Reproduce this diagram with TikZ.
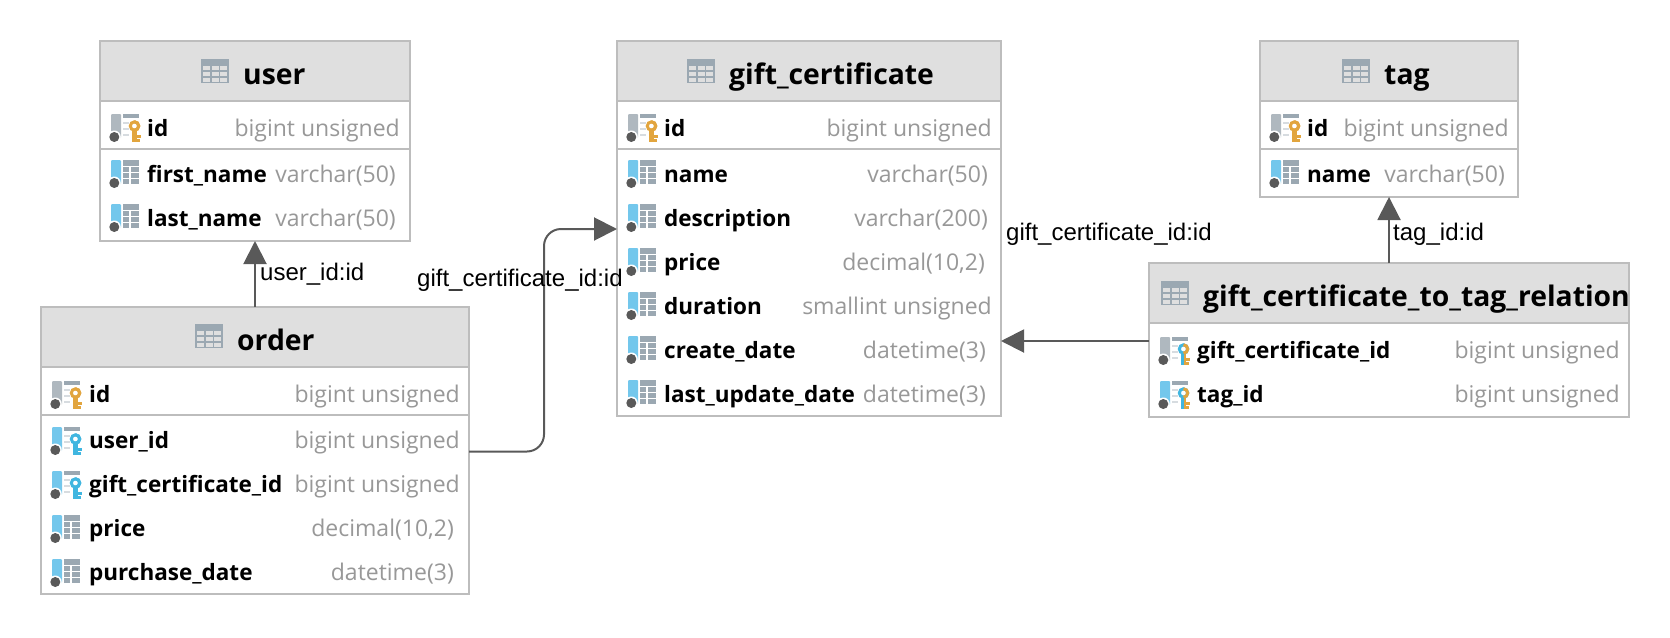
\documentclass[tikz,border=0pt]{standalone}
\usepackage{fontspec}
\setmainfont{Open Sans}
\newfontfamily\labelfont{Liberation Sans}
\definecolor{RuleGrey}{RGB}{189,189,189}
\definecolor{HeadGrey}{RGB}{223,223,223}
\definecolor{TypeGrey}{RGB}{152,152,152}
\definecolor{LineGrey}{RGB}{89,89,89}
\definecolor{IconGrey}{RGB}{155,168,178}
\definecolor{BarGrey}{RGB}{175,184,191}
\definecolor{BarBlue}{RGB}{115,199,236}
\definecolor{KeyGold}{RGB}{226,165,62}
\definecolor{KeyBlue}{RGB}{64,182,224}
\usetikzlibrary{arrows.meta,positioning}

\begin{document}
\begin{tikzpicture}[
        x=1pt, y=-1pt,
        tablehead/.style={draw=RuleGrey, line width=2pt, fill=HeadGrey, inner sep=0pt,
                          outer sep=0pt, minimum height=60pt},
        tablebody/.style={draw=RuleGrey, line width=2pt, fill=white, inner sep=0pt,
                          outer sep=0pt},
        title/.style={anchor=base west, inner sep=0pt, font=\fontsize{28.3}{32}\selectfont\bfseries},
        colname/.style={anchor=base west, inner sep=0pt, font=\fontsize{22.5}{26}\selectfont\bfseries},
        coltype/.style={anchor=base east, inner sep=0pt, text=TypeGrey, font=\fontsize{23}{26}\selectfont},
        conn/.style={anchor=west, inner sep=0pt, font=\fontsize{24}{26}\selectfont\labelfont},
        rowrule/.style={draw=RuleGrey, line width=2pt},
        arr/.style={draw=LineGrey, line width=2pt, -{Triangle[length=23pt, width=23pt]}},
        pics/tableicon/.style={code={
          \fill[IconGrey] (0,0) rectangle (28,24);
          \foreach \cx in {2,10.5,19}
            \foreach \cy in {7,13,19}
              \fill[HeadGrey] (\cx,\cy) rectangle +(7,4);
        }},
        pics/stub/.style={code={
          \fill[#1, rounded corners=1pt] (2,0) rectangle (12,24);
          \fill[white] (5.3,23) circle (6.5);
          \fill[LineGrey] (5.3,23) circle (5);
        }},
        pics/gridicon/.style={code={
          \pic {stub=BarBlue};
          \fill[IconGrey] (14,0) rectangle (30,24);
          \foreach \cy in {6.5,12.5,18.5}
            \draw[white, line width=1.7pt] (14,\cy) -- (30,\cy);
          \draw[white, line width=1.7pt] (21,6) -- (21,24);
        }},
        pics/keyicon/.style n args={3}{code={
          \pic {stub=#1};
          \fill[IconGrey] (14,0) rectangle (30,4);
          \foreach \cy in {8,14,20}
            \fill[white!60!IconGrey] (14,\cy) rectangle +(6,2);
          \fill[#2] (23.3,15) rectangle (25.5,28);
          \fill[#3] (25.5,15) rectangle (27.7,28);
          \fill[#3] (27.7,20.5) rectangle (31.7,23.5);
          \fill[#3] (27.7,25) rectangle (30.5,28);
          \draw[#2, line width=3pt, fill=white] (25.5,12) circle (4.2);
          \draw[#3, line width=3pt] (25.5,16.2) arc (90:-90:4.2);
        }},
        pics/plainrow/.style={code={\pic {gridicon};}},
        pics/pkrow/.style={code={\pic {keyicon={BarGrey}{KeyGold}{KeyGold}};}},
        pics/fkrow/.style={code={\pic {keyicon={BarBlue}{KeyBlue}{KeyBlue}};}},
        pics/pkfkrow/.style={code={\pic {keyicon={BarGrey}{KeyBlue}{KeyGold}};}},
        pics/pkfkbluerow/.style={code={\pic {keyicon={BarBlue}{KeyBlue}{KeyGold}};}}
      ]
        \useasboundingbox (0,0) rectangle (1670,637);
        % table frames
        \node[tablehead, anchor=north west, minimum width=310pt] (userhead) at (100,41) {};
        \node[tablebody, below=0pt of userhead, minimum width=310pt, minimum height=140pt] (userbody) {};
        \node[tablehead, anchor=north west, minimum width=428pt] (orderhead) at (41,307) {};
        \node[tablebody, below=0pt of orderhead, minimum width=428pt, minimum height=227pt] (orderbody) {};
        \node[tablehead, anchor=north west, minimum width=384pt] (gifthead) at (617,41) {};
        \node[tablebody, below=0pt of gifthead, minimum width=384pt, minimum height=315pt] (giftbody) {};
        \node[tablehead, anchor=north west, minimum width=258pt] (taghead) at (1260,41) {};
        \node[tablebody, below=0pt of taghead, minimum width=258pt, minimum height=96pt] (tagbody) {};
        \node[tablehead, anchor=north west, minimum width=480pt] (relhead) at (1149,263) {};
        \node[tablebody, below=0pt of relhead, minimum width=480pt, minimum height=94pt] (relbody) {};
        % key rows are split off by a rule
        \foreach \t in {user,order,gift,tag}
          \draw[rowrule] ([yshift=-48pt]\t body.north west) -- ([yshift=-48pt]\t body.north east);
        % titles
        \node[title] (usertitle) at (243,84.5) {user};
        \node[title] (ordertitle) at (237,350) {order};
        \node[title] (gifttitle) at (729,84.5) {gift\_certificate};
        \node[title] (tagtitle) at (1384,84.5) {tag};
        \node[title] (reltitle) at (1203,306.5) {gift\_certificate\_to\_tag\_relation};
        \foreach \t in {user,order,gift,tag,rel}
          \pic at ([xshift=-42pt,yshift=26pt]\t title.base west) {tableicon};
        % rows: name/type/baseline/right edge/icon
        \foreach \n/\c/\y/\r/\k [count=\i] in {
            id/bigint unsigned/136/400/pkrow,
            first\_name/varchar(50)/182/396/plainrow,
            last\_name/varchar(50)/226/396/plainrow}{
          \node[colname] (user\i) at (147,\y) {\n};
          \node[coltype] (usertype\i) at (\r,\y) {\c};
          \pic at (109,\y-22) {\k};
        }
        \foreach \n/\c/\y/\r/\k [count=\i] in {
            id/bigint unsigned/402/460/pkrow,
            user\_id/bigint unsigned/448/460/fkrow,
            gift\_certificate\_id/bigint unsigned/492/460/fkrow,
            price/{decimal(10,2)}/536/454/plainrow,
            purchase\_date/datetime(3)/580/454/plainrow}{
          \node[colname] (order\i) at (89,\y) {\n};
          \node[coltype] (ordertype\i) at (\r,\y) {\c};
          \pic at (50,\y-21) {\k};
        }
        \foreach \n/\c/\y/\r/\k [count=\i] in {
            id/bigint unsigned/136/992/pkrow,
            name/varchar(50)/182/988/plainrow,
            description/varchar(200)/226/988/plainrow,
            price/{decimal(10,2)}/270/985/plainrow,
            duration/smallint unsigned/314/992/plainrow,
            create\_date/datetime(3)/358/986/plainrow,
            last\_update\_date/datetime(3)/402/986/plainrow}{
          \node[colname] (gift\i) at (664,\y) {\n};
          \node[coltype] (gifttype\i) at (\r,\y) {\c};
          \pic at (626,\y-22) {\k};
        }
        \foreach \n/\c/\y/\r/\k [count=\i] in {
            id/bigint unsigned/136/1509/pkrow,
            name/varchar(50)/182/1505/plainrow}{
          \node[colname] (tag\i) at (1307,\y) {\n};
          \node[coltype] (tagtype\i) at (\r,\y) {\c};
          \pic at (1269,\y-22) {\k};
        }
        \foreach \n/\c/\y/\r/\k [count=\i] in {
            gift\_certificate\_id/bigint unsigned/358/1620/pkfkrow,
            tag\_id/bigint unsigned/402/1620/pkfkbluerow}{
          \node[colname] (rel\i) at (1197,\y) {\n};
          \node[coltype] (reltype\i) at (\r,\y) {\c};
          \pic at (1158,\y-21) {\k};
        }
        % references
        \draw[arr] (orderhead.north) -- (userbody.south);
        \draw[arr] (relhead.north) -- (tagbody.south);
        \draw[arr] ([yshift=29pt]relbody.west) -- ([yshift=29pt]relbody.west -| giftbody.east);
        \draw[arr, rounded corners=17pt] ([yshift=29pt]orderbody.east) -- ++(75,0) |- ([yshift=29.5pt]giftbody.west);
        % reference labels
        \node[conn] (userlabel) at (260,274) {user\_id:id};
        \node[conn] (orderlabel) at (417,280) {gift\_certificate\_id:id};
        \node[conn] (rellabel) at (1006,234) {gift\_certificate\_id:id};
        \node[conn] (taglabel) at (1393,234) {tag\_id:id};
      \end{tikzpicture}
\end{document}
